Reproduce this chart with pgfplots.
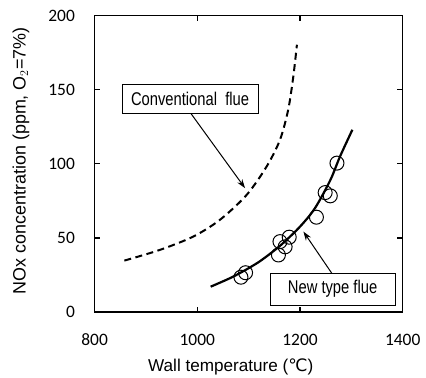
\documentclass[border=0pt]{standalone}
\usepackage{pgfplots}
\pgfplotsset{compat=1.18}
\usepackage{fontspec}
\setmainfont{Liberation Sans}
\newfontfamily\carlito{Carlito}
\newfontfamily\dejavu{DejaVu Sans}
\usetikzlibrary{arrows.meta}
\begin{document}
\begin{tikzpicture}
\begin{axis}[
  name=ax,
  at={(0,0)}, anchor=south west,
  scale only axis,
  width=308.1bp, height=296.3bp,
  xmin=800, xmax=1400, ymin=0, ymax=200,
  xtick={800,1000,1200,1400},
  ytick={0,50,100,150,200},
  tick align=inside,
  major tick length=5.5bp,
  axis line style={line width=1.5bp},
  every tick/.style={black, line width=1.2bp},
  /pgf/number format/1000 sep={},
  /pgf/number format/assume math mode=true,
  ticklabel style={font=\fontsize{17.5}{20}\selectfont\carlito},
  xticklabel style={anchor=center, yshift=-27.5bp},
  yticklabel style={anchor=east, inner sep=0pt, xshift=-19.5bp},
  xlabel={Wall temperature ({\dejavu ℃})},
  xlabel style={at={(axis description cs:0.442,0)}, anchor=center, yshift=-55bp, font=\fontsize{17.2}{20}\selectfont},
  ylabel={NOx concentration (ppm, O$_2$=7\%)},
  ylabel style={at={(axis description cs:0,0.51)}, anchor=center, yshift=73.6bp, font=\fontsize{18}{20}\selectfont},
  clip=false,
]
% conventional flue (dashed)
\addplot[black, line width=2bp, dash pattern=on 7bp off 4.5bp, smooth] coordinates {
 (858,34.7) (927,41.9) (992,50.9) (1044,62.2) (1096,79) (1135,98.2)
 (1161,116.2) (1177,136.5) (1187,159) (1194,180.4)
};
% new type flue (solid fit)
\addplot[black, line width=2.2bp, smooth] coordinates {
 (1026,17.1) (1070,23.9) (1116,32.9) (1148,41.0) (1168,46.8) (1200,57.6)
 (1229,70) (1259,89) (1278,105) (1302,123)
};
% measured points
\addplot[only marks, mark=o, mark size=7bp, mark options={line width=1bp, black}] coordinates {
 (1085,23.5) (1094,26.5)
 (1161,47.5) (1171,44) (1158,38.5) (1179,50.5)
 (1232,64) (1249,80.6) (1259,78.4) (1272,100.5)
};
% annotations
\draw[line width=1bp, -{Stealth[length=9bp, width=6bp]}] (axis cs:988,133.8) -- (axis cs:1093,83.6);
\draw[line width=1bp, -{Stealth[length=9bp, width=6bp]}] (axis cs:1262,26.1) -- (axis cs:1206.6,54.3);
\node[draw, line width=1bp, fill=white, minimum width=136bp, minimum height=29bp, inner sep=0pt] at (axis cs:985.9,143.6)
  {\scalebox{0.8}[1]{\fontsize{18.5}{20}\selectfont Conventional\ \ flue}};
\node[draw, line width=1bp, fill=white, minimum width=125bp, minimum height=31.7bp, inner sep=0pt] at (axis cs:1263.5,15.4)
  {\scalebox{0.8}[1]{\fontsize{18.5}{20}\selectfont New type flue}};
\end{axis}
\pgfresetboundingbox
\path (ax.south west) ++(-94.6bp,-66bp) rectangle ++(426bp,378bp);
\end{tikzpicture}
\end{document}
